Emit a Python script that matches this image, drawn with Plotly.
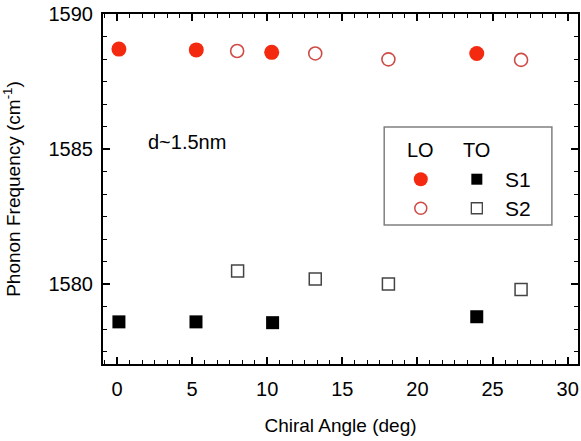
import plotly.graph_objects as go

# Data
lo_s1_angle = [0.13, 5.28, 10.3, 23.95]
lo_s1_freq = [1588.70, 1588.67, 1588.58, 1588.54]
lo_s2_angle = [8.0, 13.2, 18.07, 26.9]
lo_s2_freq = [1588.63, 1588.54, 1588.32, 1588.30]
to_s1_angle = [0.13, 5.26, 10.36, 23.95]
to_s1_freq = [1578.60, 1578.60, 1578.57, 1578.79]
to_s2_angle = [8.03, 13.2, 18.07, 26.9]
to_s2_freq = [1580.48, 1580.19, 1580.00, 1579.80]

x_ticks = [0, 5, 10, 15, 20, 25, 30]
y_ticks = [1580, 1585, 1590]

FONT = "Liberation Sans, Arial, sans-serif"
RED = "#f42a10"
RED_OPEN = "#cf4b45"
GRAY = "#444444"

fig = go.Figure()
fig.add_trace(go.Scatter(x=lo_s1_angle, y=lo_s1_freq, mode="markers",
                         marker=dict(symbol="circle", size=15, color=RED, line=dict(width=0))))
fig.add_trace(go.Scatter(x=lo_s2_angle, y=lo_s2_freq, mode="markers",
                         marker=dict(symbol="circle-open", size=13, color=RED_OPEN, line=dict(width=1.6))))
fig.add_trace(go.Scatter(x=to_s1_angle, y=to_s1_freq, mode="markers",
                         marker=dict(symbol="square", size=13, color="black", line=dict(width=0))))
fig.add_trace(go.Scatter(x=to_s2_angle, y=to_s2_freq, mode="markers",
                         marker=dict(symbol="square-open", size=12, color=GRAY, line=dict(width=1.5))))

# Legend markers drawn on an overlay axis (0..1 fraction of plot area)
leg_x_lo, leg_x_to = 0.669, 0.787
leg_y1, leg_y2 = 0.528, 0.445
fig.add_trace(go.Scatter(x=[leg_x_lo], y=[leg_y1], xaxis="x2", yaxis="y2", mode="markers",
                         marker=dict(symbol="circle", size=14, color=RED)))
fig.add_trace(go.Scatter(x=[leg_x_lo], y=[leg_y2], xaxis="x2", yaxis="y2", mode="markers",
                         marker=dict(symbol="circle-open", size=12, color=RED_OPEN, line=dict(width=1.5))))
fig.add_trace(go.Scatter(x=[leg_x_to], y=[leg_y1], xaxis="x2", yaxis="y2", mode="markers",
                         marker=dict(symbol="square", size=11, color="black")))
fig.add_trace(go.Scatter(x=[leg_x_to], y=[leg_y2], xaxis="x2", yaxis="y2", mode="markers",
                         marker=dict(symbol="square-open", size=11, color=GRAY, line=dict(width=1.3))))

axis_common = dict(
    showline=True, linecolor="black", linewidth=2, mirror="ticks",
    ticks="inside", ticklen=7, tickwidth=1.5, tickcolor="black",
    showgrid=False, zeroline=False, automargin=False,
    tickfont=dict(family=FONT, size=20, color="black"),
)


def label(text, x, y, size=19):
    return dict(text=text, x=x, y=y, xref="paper", yref="paper", showarrow=False,
                xanchor="center", yanchor="middle", font=dict(family=FONT, size=size))


fig.update_layout(
    width=581, height=441,
    margin=dict(l=103, r=3, t=14, b=77),
    paper_bgcolor="white", plot_bgcolor="white",
    showlegend=False,
    font=dict(family=FONT, color="black"),
    xaxis=dict(
        range=[-0.93, 30.69], tickvals=x_ticks, ticktext=[str(v) for v in x_ticks],
        minor=dict(dtick=5 / 6, tick0=0, ticks="inside", ticklen=4, tickwidth=1.2, tickcolor="black"),
        title=dict(text="Chiral Angle (deg)", font=dict(family=FONT, size=19), standoff=20),
        ticklabelstandoff=6,
        **axis_common,
    ),
    yaxis=dict(
        range=[1577.04, 1590], tickvals=y_ticks, ticktext=[str(v) for v in y_ticks],
        minor=dict(dtick=5 / 6, tick0=1590, ticks="inside", ticklen=4, tickwidth=1.2, tickcolor="black"),
        title=dict(text="Phonon Frequency (cm<sup>-1</sup>)", font=dict(family=FONT, size=19), standoff=24),
        ticklabelstandoff=4,
        **axis_common,
    ),
    xaxis2=dict(overlaying="x", range=[0, 1], visible=False),
    yaxis2=dict(overlaying="y", range=[0, 1], visible=False),
    shapes=[dict(type="rect", xref="paper", yref="paper", x0=0.592, x1=0.945, y0=0.397, y1=0.677,
                 line=dict(color="#808080", width=1.5), fillcolor="rgba(0,0,0,0)", layer="below")],
    annotations=[
        label("d~1.5nm", 0.176, 0.635, 20),
        label("LO", leg_x_lo, 0.611, 20),
        label("TO", leg_x_to, 0.611, 20),
        label("S1", 0.874, leg_y1, 21),
        label("S2", 0.874, leg_y2, 21),
    ],
)

fig.write_html("out.html", config={"displayModeBar": False},
               post_script="document.body.style.margin='0px';document.body.style.overflow='hidden';")
